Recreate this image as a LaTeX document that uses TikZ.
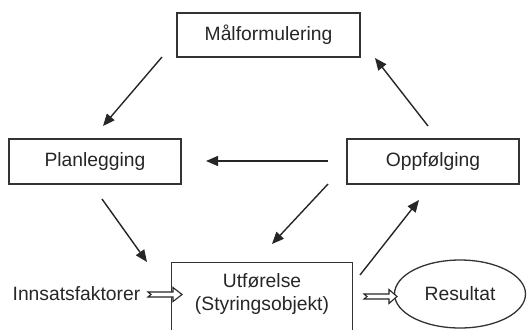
\documentclass[tikz,border=0pt]{standalone}
\usepackage{fontspec}
\setmainfont{Liberation Sans}
\usetikzlibrary{arrows.meta,shapes.geometric}
\begin{document}
\begin{tikzpicture}[x=1pt,y=-1pt,
  every node/.style={font=\fontsize{19.3}{23}\selectfont, text=black!85},
  box/.style={draw=black!80, line width=1.3pt, rectangle, inner sep=0pt},
  arr/.style={draw=black!85, line width=1.4pt, -{Triangle[length=12pt,width=10pt]}},
  hollow/.style={draw=black!85, line width=1.1pt, fill=white}]
\useasboundingbox (0,0) rectangle (532,329);
\clip (0,0) rectangle (532,329);
% boxes
\node[box, minimum width=183pt, minimum height=44pt] (mal) at (268.5,35) {Målformulering};
\node[box, minimum width=172pt, minimum height=45pt] (plan) at (95,161.5) {Planlegging};
\node[box, minimum width=172pt, minimum height=45pt] (opp) at (433,161.5) {Oppfølging};
\node[rectangle, inner sep=0pt, minimum width=180pt, minimum height=90pt] (utf) at (262,308) {};
\draw[draw=black!80, line width=1.3pt] (utf.south west) -- (utf.north west) -- (utf.north east) -- (utf.south east);
\node[align=center, inner sep=0pt] (utftext) at (262,294) {Utførelse\\(Styringsobjekt)};
\node[draw=black!80, line width=1.3pt, ellipse, minimum width=131pt, minimum height=68pt, inner sep=0pt] (res) at (460,294) {Resultat};
\node[anchor=east, inner sep=0pt] (inn) at (140.5,294) {Innsatsfaktorer};
% arrow end points
\coordinate (a1s) at (162,57);  \coordinate (a1e) at (103,126);
\coordinate (a2s) at (428,126); \coordinate (a2e) at (375,58);
\coordinate (a3s) at (328,161); \coordinate (a3e) at (206,161);
\coordinate (a4s) at (102,199); \coordinate (a4e) at (147,262);
\coordinate (a5s) at (328,184); \coordinate (a5e) at (272,244);
\coordinate (a6s) at (360,275); \coordinate (a6e) at (419,200);
\draw[arr] (a1s) -- (a1e);
\draw[arr] (a2s) -- (a2e);
\draw[arr] (a3s) -- (a3e);
\draw[arr] (a4s) -- (a4e);
\draw[arr] (a5s) -- (a5e);
\draw[arr] (a6s) -- (a6e);
% hollow arrows
\coordinate (h1) at (148,294.5);
\draw[hollow] (h1) ++(0,-2.5) -- ++(25,0) -- ++(0,-4.5) -- ++(9,7) -- ++(-9,7) -- ++(0,-4.5) -- ++(-25,0) -- ++(3,-2.5) -- cycle;
\coordinate (h2) at (364,296.5);
\draw[hollow] (h2) ++(0,-2.5) -- ++(25,0) -- ++(0,-4.5) -- ++(8,7) -- ++(-8,7) -- ++(0,-4.5) -- ++(-25,0) -- ++(3,-2.5) -- cycle;
\end{tikzpicture}
\end{document}
